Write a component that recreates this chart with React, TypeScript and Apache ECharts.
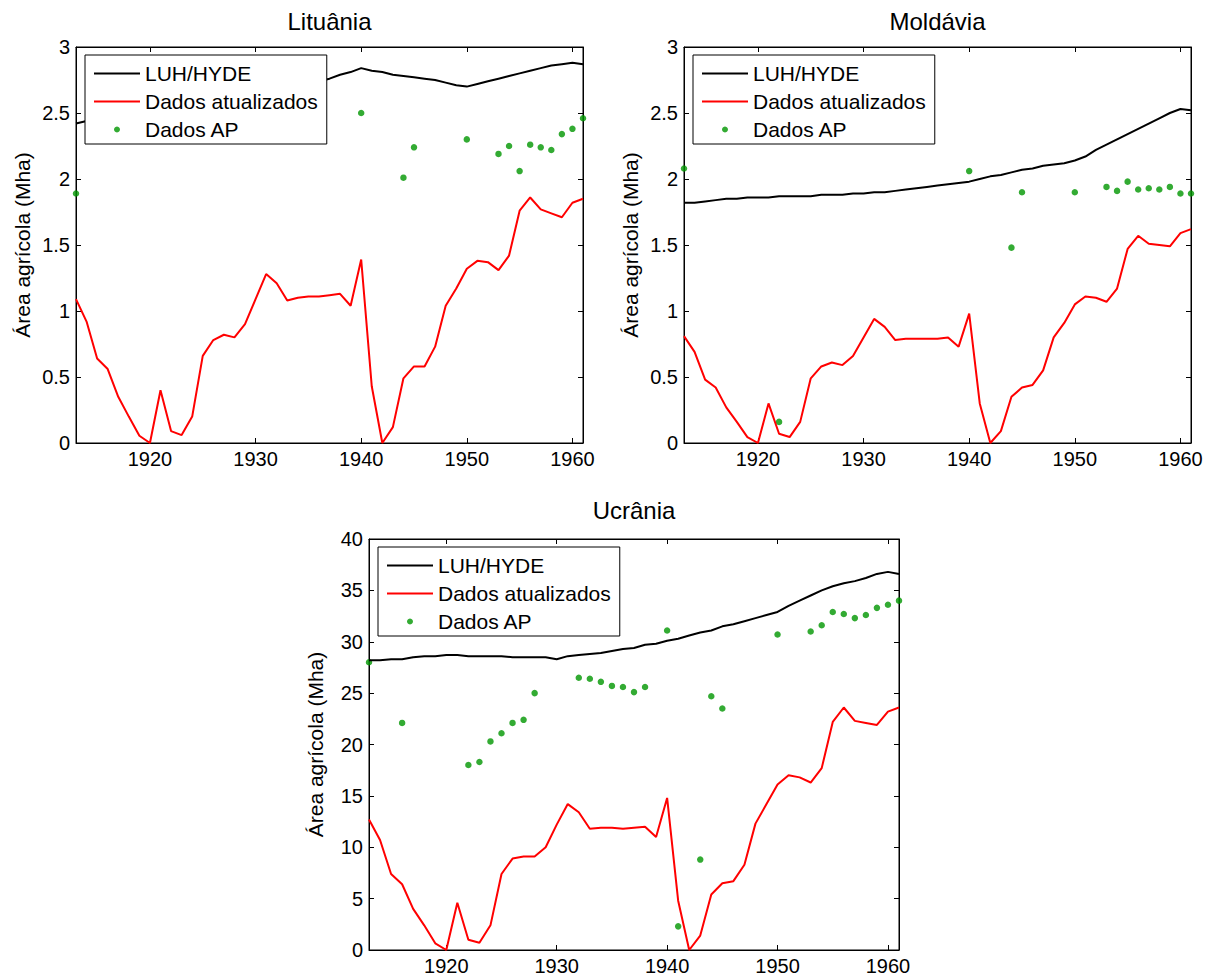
import React, { useEffect, useRef } from "react";
import * as echarts from "echarts";

const years = [
  1913, 1914, 1915, 1916, 1917, 1918, 1919, 1920, 1921, 1922,
  1923, 1924, 1925, 1926, 1927, 1928, 1929, 1930, 1931, 1932,
  1933, 1934, 1935, 1936, 1937, 1938, 1939, 1940, 1941, 1942,
  1943, 1944, 1945, 1946, 1947, 1948, 1949, 1950, 1951, 1952,
  1953, 1954, 1955, 1956, 1957, 1958, 1959, 1960, 1961,
];
const xTickValues = [1920, 1930, 1940, 1950, 1960];

// Lituânia
const ltHyde = [
  2.42, 2.44, 2.46, 2.48, 2.5, 2.51, 2.52, 2.53, 2.54, 2.55,
  2.56, 2.57, 2.58, 2.59, 2.6, 2.61, 2.62, 2.63, 2.65, 2.67,
  2.69, 2.71, 2.72, 2.74, 2.76, 2.79, 2.81, 2.84, 2.82, 2.81,
  2.79, 2.78, 2.77, 2.76, 2.75, 2.73, 2.71, 2.7, 2.72, 2.74,
  2.76, 2.78, 2.8, 2.82, 2.84, 2.86, 2.87, 2.88, 2.87,
];
const ltUpdated = [
  1.09, 0.92, 0.64, 0.56, 0.35, 0.2, 0.055, 0, 0.4, 0.09,
  0.06, 0.2, 0.66, 0.78, 0.82, 0.8, 0.9, 1.09, 1.28, 1.21,
  1.08, 1.1, 1.11, 1.11, 1.12, 1.13, 1.04, 1.39, 0.43, 0,
  0.12, 0.49, 0.58, 0.58, 0.73, 1.04, 1.17, 1.32, 1.38, 1.37,
  1.31, 1.42, 1.76, 1.86, 1.77, 1.74, 1.71, 1.82, 1.85,
];
const ltApYears = [1913, 1940, 1944, 1945, 1950, 1953, 1954, 1955, 1956, 1957, 1958, 1959, 1960, 1961];
const ltApValues = [1.89, 2.5, 2.01, 2.24, 2.3, 2.19, 2.25, 2.06, 2.26, 2.24, 2.22, 2.34, 2.38, 2.46];

// Moldávia
const mdHyde = [
  1.82, 1.82, 1.83, 1.84, 1.85, 1.85, 1.86, 1.86, 1.86, 1.87,
  1.87, 1.87, 1.87, 1.88, 1.88, 1.88, 1.89, 1.89, 1.9, 1.9,
  1.91, 1.92, 1.93, 1.94, 1.95, 1.96, 1.97, 1.98, 2.0, 2.02,
  2.03, 2.05, 2.07, 2.08, 2.1, 2.11, 2.12, 2.14, 2.17, 2.22,
  2.26, 2.3, 2.34, 2.38, 2.42, 2.46, 2.5, 2.53, 2.52,
];
const mdUpdated = [
  0.81, 0.69, 0.48, 0.42, 0.27, 0.16, 0.045, 0, 0.3, 0.07,
  0.045, 0.16, 0.49, 0.58, 0.61, 0.59, 0.66, 0.8, 0.94, 0.88,
  0.78, 0.79, 0.79, 0.79, 0.79, 0.8, 0.73, 0.98, 0.3, 0,
  0.09, 0.35, 0.42, 0.44, 0.55, 0.8, 0.91, 1.05, 1.11, 1.1,
  1.07, 1.17, 1.47, 1.57, 1.51, 1.5, 1.49, 1.59, 1.62,
];
const mdApYears = [1913, 1922, 1940, 1944, 1945, 1950, 1953, 1954, 1955, 1956, 1957, 1958, 1959, 1960, 1961];
const mdApValues = [2.08, 0.16, 2.06, 1.48, 1.9, 1.9, 1.94, 1.91, 1.98, 1.92, 1.93, 1.92, 1.94, 1.89, 1.89];

// Ucrânia
const uaHyde = [
  28.2, 28.2, 28.3, 28.3, 28.5, 28.6, 28.6, 28.7, 28.7, 28.6,
  28.6, 28.6, 28.6, 28.5, 28.5, 28.5, 28.5, 28.3, 28.6, 28.7,
  28.8, 28.9, 29.1, 29.3, 29.4, 29.7, 29.8, 30.1, 30.3, 30.6,
  30.9, 31.1, 31.5, 31.7, 32.0, 32.3, 32.6, 32.9, 33.5, 34.0,
  34.5, 35.0, 35.4, 35.7, 35.9, 36.2, 36.6, 36.8, 36.6,
];
const uaUpdated = [
  12.7, 10.7, 7.4, 6.4, 4.0, 2.4, 0.65, 0, 4.6, 1.0,
  0.7, 2.4, 7.4, 8.9, 9.1, 9.1, 10.0, 12.2, 14.2, 13.4,
  11.8, 11.9, 11.9, 11.8, 11.9, 12.0, 11.0, 14.8, 4.8, 0,
  1.4, 5.4, 6.5, 6.7, 8.3, 12.3, 14.2, 16.1, 17.0, 16.8,
  16.3, 17.7, 22.2, 23.6, 22.3, 22.1, 21.9, 23.2, 23.6,
];
const uaApYears = [
  1913, 1916, 1922, 1923, 1924, 1925, 1926, 1927, 1928, 1932, 1933, 1934, 1935, 1936, 1937, 1938,
  1940, 1941, 1943, 1944, 1945, 1950, 1953, 1954, 1955, 1956, 1957, 1958, 1959, 1960, 1961,
];
const uaApValues = [
  28.0, 22.1, 18.0, 18.3, 20.3, 21.1, 22.1, 22.4, 25.0, 26.5, 26.4, 26.1, 25.7, 25.6, 25.1, 25.6,
  31.1, 2.3, 8.8, 24.7, 23.5, 30.7, 31.0, 31.6, 32.9, 32.7, 32.3, 32.6, 33.3, 33.6, 34.0,
];

const seriesNames = ["LUH/HYDE", "Dados atualizados", "Dados AP"];
const yAxisName = "Área agrícola (Mha)";

const FONT = "'Liberation Sans', Arial, sans-serif";
const GREEN = "#009600";

const panels = [
  { title: "Lituânia", hyde: ltHyde, upd: ltUpdated, apX: ltApYears, apY: ltApValues, yMax: 3, yStep: 0.5,
    box: [76, 47, 507, 396], titleTop: 9 },
  { title: "Moldávia", hyde: mdHyde, upd: mdUpdated, apX: mdApYears, apY: mdApValues, yMax: 3, yStep: 0.5,
    box: [684, 47, 507, 396], titleTop: 9 },
  { title: "Ucrânia", hyde: uaHyde, upd: uaUpdated, apX: uaApYears, apY: uaApValues, yMax: 40, yStep: 5,
    box: [369, 539, 530, 411], titleTop: 498 },
];

function buildOption() {
  const grid: any[] = [];
  const xAxis: any[] = [];
  const yAxis: any[] = [];
  const series: any[] = [];
  const legend: any[] = [];
  const title: any[] = [];
  const lineIcon = "path://M0,0H46V2H0Z";

  panels.forEach((p, i) => {
    const [l, t, w, h] = p.box;
    grid.push({ left: l, top: t, width: w, height: h, show: true, borderColor: "#000", borderWidth: 1,
      backgroundColor: "transparent" });
    title.push({ text: p.title, left: l + w / 2, top: p.titleTop, textAlign: "center", padding: 0,
      textStyle: { fontSize: 24, fontWeight: "normal", color: "#000", fontFamily: FONT } });

    const xBase = {
      type: "value", gridIndex: i, min: 1913, max: 1961,
      splitLine: { show: false },
      axisLine: { show: true, onZero: false, lineStyle: { color: "#000", width: 1 } },
      axisTick: { show: true, inside: true, length: 5, customValues: xTickValues, lineStyle: { color: "#000", width: 1 } },
    };
    xAxis.push({ ...xBase, position: "bottom",
      axisLabel: { customValues: xTickValues, color: "#000", fontSize: 20, fontFamily: FONT, margin: 6,
        formatter: (v: number) => String(v) } });
    xAxis.push({ ...xBase, position: "top", axisLabel: { show: false } });

    const yBase = {
      type: "value", gridIndex: i, min: 0, max: p.yMax, interval: p.yStep,
      splitLine: { show: false },
      axisLine: { show: true, onZero: false, lineStyle: { color: "#000", width: 1 } },
      axisTick: { show: true, inside: true, length: 5, lineStyle: { color: "#000", width: 1 } },
    };
    yAxis.push({ ...yBase, position: "left", name: yAxisName, nameLocation: "middle", nameGap: 43,
      nameTextStyle: { fontSize: 21, color: "#000", fontFamily: FONT },
      axisLabel: { color: "#000", fontSize: 20, fontFamily: FONT, margin: 6, formatter: (v: number) => String(v) } });
    yAxis.push({ ...yBase, position: "right", axisLabel: { show: false } });

    series.push({ type: "line", name: seriesNames[0], xAxisIndex: 2 * i, yAxisIndex: 2 * i,
      data: years.map((y, k) => [y, p.hyde[k]]), symbol: "none", clip: false,
      lineStyle: { color: "#000", width: 2 }, itemStyle: { color: "#000" } });
    series.push({ type: "line", name: seriesNames[1], xAxisIndex: 2 * i, yAxisIndex: 2 * i,
      data: years.map((y, k) => [y, p.upd[k]]), symbol: "none", clip: false,
      lineStyle: { color: "#ff0000", width: 2 }, itemStyle: { color: "#ff0000" } });
    series.push({ type: "scatter", name: seriesNames[2], xAxisIndex: 2 * i, yAxisIndex: 2 * i,
      data: p.apX.map((y, k) => [y, p.apY[k]]), symbol: "circle", symbolSize: 6.5, clip: false,
      itemStyle: { color: GREEN } });

    legend.push({
      orient: "vertical", left: l + 9, top: t + 8,
      data: [
        { name: seriesNames[0], icon: lineIcon },
        { name: seriesNames[1], icon: lineIcon },
        { name: seriesNames[2], icon: "circle" },
      ],
      itemWidth: 46, itemHeight: 6, itemGap: 7, padding: [8, 9, 4, 9],
      backgroundColor: "#fff", borderColor: "#000", borderWidth: 1, borderRadius: 0,
      selectedMode: false,
      textStyle: { fontSize: 21, color: "#000", fontFamily: FONT },
    });
  });

  return { animation: false, backgroundColor: "#fff", title, grid, xAxis, yAxis, legend, series };
}

export default function App() {
  const ref = useRef<HTMLDivElement>(null);
  useEffect(() => {
    if (!ref.current) return;
    const chart = echarts.init(ref.current, null, { renderer: "svg" });
    chart.setOption(buildOption() as any);
    return () => chart.dispose();
  }, []);
  return (
    <div ref={ref}
      style={{ position: "fixed", left: 0, top: 0, width: 1212, height: 979, background: "#fff" }} />
  );
}
